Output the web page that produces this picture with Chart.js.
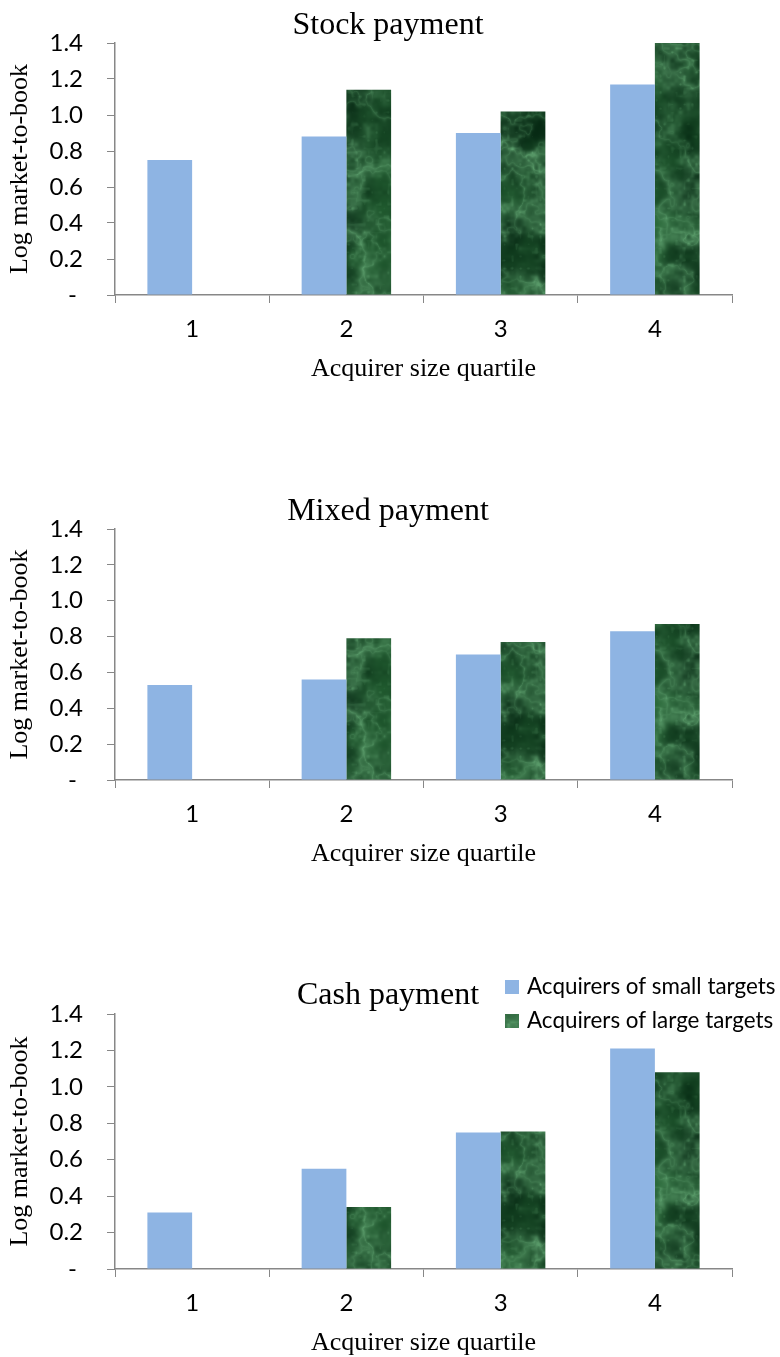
<!DOCTYPE html>
<html>
<head>
<meta charset="utf-8">
<script src="https://cdn.jsdelivr.net/npm/chart.js@4.4.1/dist/chart.umd.min.js"></script>
<style>
  html, body { margin: 0; padding: 0; background: #ffffff; overflow: hidden; }
  .panel { position: absolute; left: 0; }
</style>
</head>
<body>
<canvas id="stock" class="panel" width="780" height="480" style="top:0px"></canvas>
<canvas id="mixed" class="panel" width="780" height="480" style="top:480px"></canvas>
<canvas id="cash" class="panel" width="780" height="397" style="top:960px"></canvas>
<script>
// Acquirer size quartiles (x categories)
const quartiles = ['1', '2', '3', '4'];

// Log market-to-book, by payment method and target size
const stockSmall = [0.75, 0.88, 0.90, 1.17];
const stockLarge = [null, 1.14, 1.02, 1.40];
const mixedSmall = [0.53, 0.56, 0.70, 0.83];
const mixedLarge = [null, 0.79, 0.77, 0.87];
const cashSmall  = [0.31, 0.55, 0.75, 1.21];
const cashLarge  = [null, 0.34, 0.755, 1.08];

// Series names and panel titles
const seriesNames = ['Acquirers of small targets', 'Acquirers of large targets'];
const panelTitles = ['Stock payment', 'Mixed payment', 'Cash payment'];

// y-axis ticks
const yTicks = [0, 0.2, 0.4, 0.6, 0.8, 1.0, 1.2, 1.4];

const SERIF = '"Liberation Serif", "Times New Roman", serif';
const SANS = 'Lato, "Open Sans", sans-serif';
const AXIS_GREY = '#878787';
const LIGHT_BLUE = '#8EB4E3';

// ---- green marble texture used to fill the large-target bars ----
function makeMarble() {
  const N = 256;
  const raw = document.createElement('canvas');
  raw.width = N; raw.height = N;
  const g = raw.getContext('2d');
  const img = g.createImageData(N, N);

  function hash(x, y, s) {
    let h = Math.imul(x, 374761393) ^ Math.imul(y, 668265263) ^ Math.imul(s, 1274126177);
    h = Math.imul(h ^ (h >>> 13), 1103515245);
    h ^= h >>> 16;
    return (h >>> 0) / 4294967296;
  }
  function smooth(t) { return t * t * (3 - 2 * t); }
  function vnoise(x, y, period, s) {
    const xi = Math.floor(x), yi = Math.floor(y);
    const fx = smooth(x - xi), fy = smooth(y - yi);
    const x0 = ((xi % period) + period) % period, y0 = ((yi % period) + period) % period;
    const x1 = (x0 + 1) % period, y1 = (y0 + 1) % period;
    const a = hash(x0, y0, s), b = hash(x1, y0, s), cc = hash(x0, y1, s), d = hash(x1, y1, s);
    return (a + (b - a) * fx) * (1 - fy) + (cc + (d - cc) * fx) * fy;
  }
  function fbm(u, v, base, oct, s) {
    let sum = 0, amp = 1, tot = 0, p = base;
    for (let o = 0; o < oct; o++) {
      sum += amp * vnoise(u * p, v * p, p, s + o * 17);
      tot += amp; amp *= 0.55; p *= 2;
    }
    return sum / tot;
  }
  for (let y = 0; y < N; y++) {
    for (let x = 0; x < N; x++) {
      const u = x / N, v = y / N;
      const body = fbm(u, v, 4, 5, 3);
      const vein = fbm(u, v, 4, 5, 91);
      const vein2 = fbm(u, v, 8, 4, 55);
      const ridge = 1 - Math.abs(vein * 2 - 1);
      const ridge2 = 1 - Math.abs(vein2 * 2 - 1);
      const veinAmt = Math.pow(ridge, 7) * 0.6 + Math.pow(ridge2, 9) * 0.35;
      const speck = vnoise(u * 64, v * 64, 64, 7);
      const t = Math.min(1, Math.max(0, (body - 0.33) * 2.0));
      let r = 5 + 30 * t, gg = 40 + 58 * t, b = 18 + 32 * t;
      const w = Math.min(1, veinAmt + Math.max(0, speck - 0.72) * 0.7);
      r += (92 - r) * w; gg += (158 - gg) * w; b += (108 - b) * w;
      const i = (y * N + x) * 4;
      img.data[i] = r; img.data[i + 1] = gg; img.data[i + 2] = b; img.data[i + 3] = 255;
    }
  }
  g.putImageData(img, 0, 0);

  // soften the tile a little, wrapping so the edges stay seamless
  const big = document.createElement('canvas');
  big.width = N * 3; big.height = N * 3;
  const bg = big.getContext('2d');
  for (let dx = 0; dx < 3; dx++) {
    for (let dy = 0; dy < 3; dy++) bg.drawImage(raw, dx * N, dy * N);
  }
  const out = document.createElement('canvas');
  out.width = N; out.height = N;
  const o = out.getContext('2d');
  o.filter = 'blur(0.6px)';
  o.drawImage(big, -N, -N);
  return out;
}
const marbleTile = makeMarble();

// Panel heading, centred above the plot
const panelHeading = {
  id: 'panelHeading',
  afterDraw(chart, args, opts) {
    const ctx = chart.ctx;
    ctx.save();
    ctx.font = '32px ' + SERIF;
    ctx.fillStyle = '#000000';
    ctx.textAlign = 'center';
    ctx.textBaseline = 'middle';
    ctx.fillText(opts.text, opts.x, opts.y);
    ctx.restore();
  }
};

// Legend drawn in the upper right of the cash panel
const cornerLegend = {
  id: 'cornerLegend',
  afterDraw(chart, args, opts) {
    if (!opts.show) return;
    const ctx = chart.ctx;
    ctx.save();
    ctx.font = '22.4px ' + SANS;
    ctx.textBaseline = 'middle';
    ctx.textAlign = 'left';
    chart.data.datasets.forEach((ds, i) => {
      const yMid = opts.y + i * opts.gap;
      ctx.fillStyle = ds.backgroundColor;
      ctx.fillRect(opts.x, yMid - 7, 14, 14);
      ctx.fillStyle = '#000000';
      ctx.fillText(ds.label, opts.x + 22, yMid);
    });
    ctx.restore();
  }
};

function buildPanel(id, title, small, large, geo) {
  const canvas = document.getElementById(id);
  const ctx = canvas.getContext('2d');
  const pattern = ctx.createPattern(marbleTile, 'repeat');
  const H = canvas.height;
  const xAxisH = 90;
  return new Chart(ctx, {
    type: 'bar',
    data: {
      labels: quartiles,
      datasets: [
        { label: seriesNames[0], data: small, backgroundColor: LIGHT_BLUE, borderWidth: 0 },
        { label: seriesNames[1], data: large, backgroundColor: pattern, borderWidth: 0 }
      ]
    },
    options: {
      responsive: false,
      devicePixelRatio: 1,
      animation: false,
      layout: { padding: { left: 0, right: 48, top: geo.plotTop, bottom: H - geo.plotBottom - xAxisH } },
      datasets: { bar: { categoryPercentage: 0.58, barPercentage: 1.0 } },
      plugins: {
        legend: { display: false },
        tooltip: { enabled: false },
        title: { display: false },
        panelHeading: { text: title, x: 388, y: geo.titleCenter },
        cornerLegend: geo.legend || { show: false }
      },
      scales: {
        x: {
          afterFit(scale) { scale.height = xAxisH; },
          grid: { display: true, drawOnChartArea: false, drawTicks: true, tickLength: 8, color: AXIS_GREY, lineWidth: 1 },
          border: { display: true, color: AXIS_GREY, width: 1.5 },
          ticks: { color: '#000000', font: { family: SANS, size: 24 }, padding: 12 },
          title: {
            display: true,
            text: 'Acquirer size quartile',
            color: '#000000',
            font: { family: SERIF, size: 26, weight: 'normal' },
            padding: { top: 0, bottom: 0 }
          }
        },
        y: {
          min: 0,
          max: 1.4,
          afterFit(scale) { scale.width = 115; },
          afterBuildTicks(scale) { scale.ticks = yTicks.map(v => ({ value: v })); },
          grid: { display: true, drawOnChartArea: false, drawTicks: true, tickLength: 8, color: AXIS_GREY, lineWidth: 1 },
          border: { display: true, color: AXIS_GREY, width: 1.5 },
          ticks: {
            color: '#000000',
            font: { family: SANS, size: 24 },
            padding: 24,
            callback: (v) => (v === 0 ? '- ' : Number(v).toFixed(1))
          },
          title: {
            display: true,
            text: 'Log market-to-book',
            color: '#000000',
            font: { family: SERIF, size: 26, weight: 'normal' },
            padding: { top: 5, bottom: 0 }
          }
        }
      }
    },
    plugins: [panelHeading, cornerLegend]
  });
}

buildPanel('stock', panelTitles[0], stockSmall, stockLarge,
  { plotTop: 43, plotBottom: 295, titleCenter: 26 });
buildPanel('mixed', panelTitles[1], mixedSmall, mixedLarge,
  { plotTop: 49, plotBottom: 300, titleCenter: 32 });
buildPanel('cash', panelTitles[2], cashSmall, cashLarge,
  { plotTop: 54, plotBottom: 309, titleCenter: 36,
    legend: { show: true, x: 505, y: 27, gap: 34 } });
</script>
</body>
</html>
